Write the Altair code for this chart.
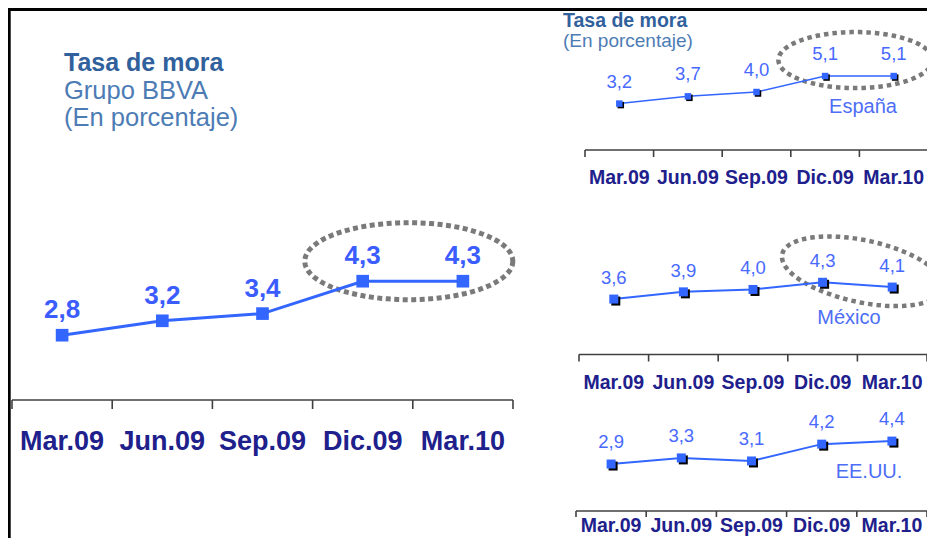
import math
import altair as alt
import pandas as pd

# ---------------- data ----------------
categories = ["Mar.09", "Jun.09", "Sep.09", "Dic.09", "Mar.10"]
grupo_bbva = [2.8, 3.2, 3.4, 4.3, 4.3]
espana = [3.2, 3.7, 4.0, 5.1, 5.1]
mexico = [3.6, 3.9, 4.0, 4.3, 4.1]
eeuu = [2.9, 3.3, 3.1, 4.2, 4.4]

main_title = "Tasa de mora"
main_subtitle = ["Grupo BBVA", "(En porcentaje)"]
side_title = "Tasa de mora"
side_subtitle = "(En porcentaje)"
country_names = ["España", "México", "EE.UU."]

# ---------------- style / layout ----------------
FONT = "Liberation Sans"
W, H = 919, 530
OX = OY = 8  # page margin -> view coordinates

LINE_BLUE = "#3366ff"
VAL_BLUE_MAIN = "#3b5cff"
VAL_BLUE_SIDE = "#4869ff"
NAVY = "#20208c"
TITLE_BLUE = "#31619c"
SUB_BLUE = "#4d7cb5"
NAME_BLUE = "#4d6ef5"
GRAY = "#7a7a7a"
AXIS = "#404040"


def fmt(v):
    return f"{v:.1f}".replace(".", ",")


def ellipse_path(rx, ry, ang, dx, dy, n=120):
    a = math.radians(ang)
    pts = []
    for k in range(n):
        t = 2 * math.pi * k / n
        ex, ey = rx * math.cos(t), ry * math.sin(t)
        x = ex * math.cos(a) - ey * math.sin(a) + dx
        y = ex * math.sin(a) + ey * math.cos(a) + dy
        pts.append((x / rx, y / rx))
    return "M" + " L".join(f"{x:.4f},{y:.4f}" for x, y in pts) + " Z"


def square_path(off):
    a, b = -1 + off, 1 + off
    return f"M{a},{a} L{b},{a} L{b},{b} L{a},{b} Z"


def text_layer(txt, x, y, size, weight, color, align="left"):
    return alt.Chart(pd.DataFrame({"t": [txt]})).mark_text(
        align=align, baseline="alphabetic", font=FONT, fontSize=size,
        fontWeight=weight, color=color
    ).encode(x=alt.value(x), y=alt.value(y), text="t:N")


def panel(values, p):
    n = len(values)
    x0, x1 = p["x0"] - OX, p["x1"] - OX
    ay = p["axis_y"] - OY
    ymin, ppu = p["ymin"], p["ppu"]
    xs = alt.Scale(domain=[0, n], range=[x0, x1], nice=False, zero=False)
    ys = alt.Scale(domain=[ymin, ymin + ay / ppu], range=[ay, 0], nice=False, zero=False)

    df = pd.DataFrame({
        "xi": [i + 0.5 for i in range(n)],
        "v": values,
        "lab": [fmt(v) for v in values],
        "cat": categories,
    })
    dom = pd.DataFrame({"xa": [0], "xb": [n], "y": [ymin]})
    ticks = pd.DataFrame({"xt": list(range(n + 1)),
                          "ya": [ymin] * (n + 1),
                          "yb": [ymin - p["tick"] / ppu] * (n + 1)})

    X = lambda f: alt.X(f, scale=xs, axis=None, title=None)
    Y = lambda f: alt.Y(f, scale=ys, axis=None, title=None)

    layers = []
    layers.append(alt.Chart(dom).mark_rule(color=AXIS, strokeWidth=1.6).encode(
        x=X("xa:Q"), x2="xb:Q", y=Y("y:Q")))
    layers.append(alt.Chart(ticks).mark_rule(color=AXIS, strokeWidth=1.6).encode(
        x=X("xt:Q"), y=Y("ya:Q"), y2="yb:Q"))
    layers.append(alt.Chart(df).mark_text(
        align="center", baseline="alphabetic", font=FONT, fontSize=p["cat_size"],
        fontWeight="bold", color=NAVY).encode(
        x=X("xi:Q"), y=alt.value(p["cat_base"] - OY), text="cat:N"))

    if p.get("ell"):
        e = p["ell"]
        edf = pd.DataFrame({"xe": [n - 1], "ye": [max(values[-2:])]})
        layers.append(alt.Chart(edf).mark_point(
            shape=ellipse_path(e["rx"], e["ry"], e["ang"], e["dx"], e["dy"]),
            filled=False, stroke=GRAY, strokeWidth=e["w"], strokeDash=e["dash"],
            strokeCap="butt", opacity=1, size=(2 * e["rx"]) ** 2).encode(
            x=X("xe:Q"), y=Y("ye:Q")))

    layers.append(alt.Chart(df).mark_line(color=LINE_BLUE, strokeWidth=p["lw"]).encode(
        x=X("xi:Q"), y=Y("v:Q")))
    if p["shadow"]:
        off = p["shadow"] / (math.sqrt(p["msize"]) / 2)
        layers.append(alt.Chart(df).mark_point(
            shape=square_path(off), filled=True, color="black", opacity=1,
            size=p["msize"]).encode(x=X("xi:Q"), y=Y("v:Q")))
    layers.append(alt.Chart(df).mark_point(
        shape="square", filled=True, color=LINE_BLUE, opacity=1,
        size=p["msize"]).encode(x=X("xi:Q"), y=Y("v:Q")))
    layers.append(alt.Chart(df).mark_text(
        align="center", baseline="alphabetic", dy=p["val_dy"], font=FONT,
        fontSize=p["val_size"], fontWeight=p["val_weight"],
        color=p["val_color"]).encode(x=X("xi:Q"), y=Y("v:Q"), text="lab:N"))
    if p.get("name"):
        layers.append(text_layer(p["name"], p["name_x"] - OX, p["name_base"] - OY,
                                 p["name_size"], "normal", NAME_BLUE, align="center"))
    return alt.layer(*layers)


main_p = dict(x0=12, x1=513, axis_y=400, ymin=1.0, ppu=36, tick=9, cat_base=450,
              cat_size=27, val_size=26, val_weight="bold", val_dy=-17,
              val_color=VAL_BLUE_MAIN, msize=160, lw=3, shadow=0,
              ell=dict(rx=104, ry=38.5, ang=0, dx=-4, dy=-20, w=5, dash=[5, 3.5]))
esp_p = dict(x0=585, x1=928, axis_y=150, ymin=0.0, ppu=14.5, tick=7, cat_base=184,
             cat_size=19.5, val_size=18.5, val_weight="normal", val_dy=-16,
             val_color=VAL_BLUE_SIDE, msize=42, lw=1.5, shadow=1.5,
             ell=dict(rx=77, ry=28, ang=0, dx=-4, dy=-16, w=4.5, dash=[4.5, 4]),
             name=country_names[0], name_x=863, name_base=113, name_size=20)
mex_p = dict(x0=579, x1=927, axis_y=354.5, ymin=1.29, ppu=24, tick=7, cat_base=389,
             cat_size=19.5, val_size=18.5, val_weight="normal", val_dy=-15,
             val_color=VAL_BLUE_SIDE, msize=81, lw=2, shadow=2,
             ell=dict(rx=82, ry=31, ang=12, dx=5, dy=-11, w=4.5, dash=[4.5, 4]),
             name=country_names[1], name_x=849, name_base=324, name_size=20)
us_p = dict(x0=576, x1=927, axis_y=511, ymin=-0.17, ppu=15.3, tick=6, cat_base=532,
            cat_size=19.5, val_size=18.5, val_weight="normal", val_dy=-16,
            val_color=VAL_BLUE_SIDE, msize=81, lw=2, shadow=2,
            name=country_names[2], name_x=869, name_base=478, name_size=20)

frame_df = pd.DataFrame({"a": [0]})
frame_top = alt.Chart(frame_df).mark_rule(color="black", strokeWidth=3).encode(
    x=alt.value(0), x2=alt.value(W), y=alt.value(1.5))
frame_left = alt.Chart(frame_df).mark_rule(color="black", strokeWidth=3).encode(
    x=alt.value(1.2), y=alt.value(0), y2=alt.value(H))

titles = [
    text_layer(main_title, 56, 63, 25, "bold", TITLE_BLUE),
    text_layer(main_subtitle[0], 56, 91, 25.5, "normal", SUB_BLUE),
    text_layer(main_subtitle[1], 56, 118, 25.5, "normal", SUB_BLUE),
    text_layer(side_title, 555, 19, 19.5, "bold", TITLE_BLUE),
    text_layer(side_subtitle, 555, 39, 19, "normal", SUB_BLUE),
]

chart = alt.layer(
    frame_top, frame_left, *titles,
    panel(grupo_bbva, main_p),
    panel(espana, esp_p),
    panel(mexico, mex_p),
    panel(eeuu, us_p),
).resolve_scale(x="independent", y="independent").properties(
    width=W, height=H, padding=0,
    autosize=alt.AutoSizeParams(type="none"),
    background="white",
).configure_view(strokeWidth=0)

chart.save("out.html", embed_options={"renderer": "svg", "actions": False})
